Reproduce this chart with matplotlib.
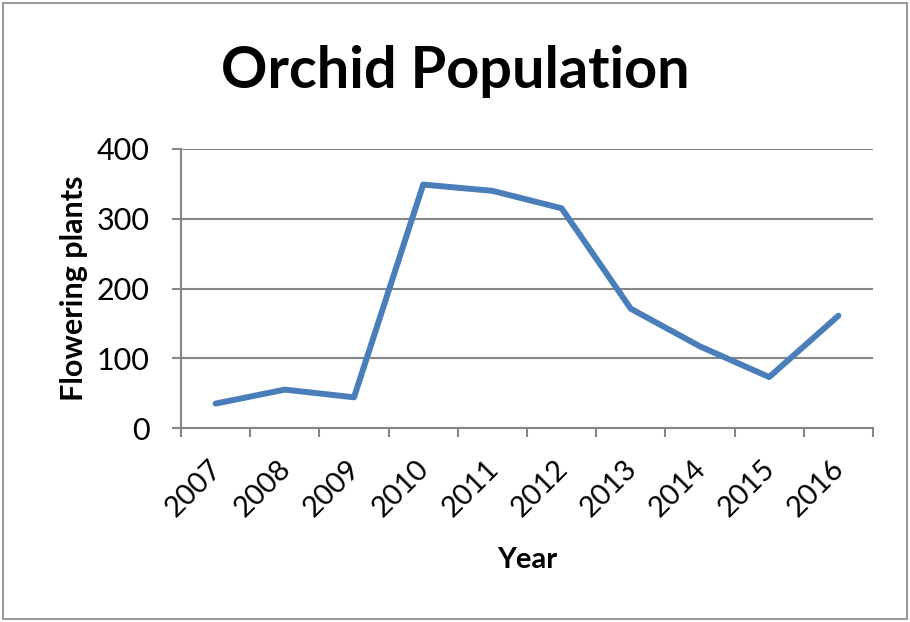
import matplotlib
matplotlib.use("Agg")
import matplotlib.pyplot as plt
from matplotlib.patches import Rectangle
from matplotlib.transforms import ScaledTranslation

years = ["2007", "2008", "2009", "2010", "2011", "2012", "2013", "2014", "2015", "2016"]
plants = [35, 55, 44, 349, 340, 315, 171, 117, 73, 161]
y_ticks = [0, 100, 200, 300, 400]

plt.rcParams['font.family'] = ['Lato', 'DejaVu Sans']

W, H = 910, 622
fig = plt.figure(figsize=(W / 100, H / 100), dpi=100)
ax = fig.add_axes([181 / W, 1 - 428 / H, (873 - 181) / W, (428 - 149) / H])

grey = '#868686'
x = list(range(len(years)))
ax.plot(x, plants, color='#4a7ebb', linewidth=4.3, solid_capstyle='round', solid_joinstyle='round', zorder=3)

ax.set_xlim(-0.5, len(years) - 0.5)
ax.set_ylim(0, 400)
ax.set_yticks(y_ticks)
ax.set_yticklabels([str(v) for v in y_ticks], fontsize=22)
ax.yaxis.grid(True, color=grey, linewidth=1.5)
ax.set_axisbelow(True)

ax.set_xticks(x)
ax.set_xticklabels(years, fontsize=21, rotation=45, ha='right', va='top')
ax.set_xticks([i - 0.5 for i in range(len(years) + 1)], minor=True)
ax.tick_params(axis='x', which='major', length=0, pad=20)
ax.tick_params(axis='x', which='minor', length=6.5, width=1.5, color=grey, direction='out')
ax.tick_params(axis='y', length=6.5, width=1.5, color=grey, pad=16)

# nudge the rotated year labels to the right, like Excel
shift = ScaledTranslation(11 / 100, 0, fig.dpi_scale_trans)
for lbl in ax.get_xticklabels():
    lbl.set_transform(lbl.get_transform() + shift)

for s in ['top', 'right']:
    ax.spines[s].set_visible(False)
for s in ['left', 'bottom']:
    ax.spines[s].set_color(grey)
    ax.spines[s].set_linewidth(1.5)

ax.set_ylabel('Flowering plants', fontsize=22, fontweight='bold', labelpad=6)
fig.text(527 / W, 1 - 560 / H, 'Year', fontsize=21, fontweight='bold', ha='center', va='center')
fig.text(455 / W, 1 - 72 / H, 'Orchid Population', fontsize=41.5, fontweight='bold', ha='center', va='center')

fig.patches.append(Rectangle((3 / W, 3 / H), 904 / W, 616 / H, transform=fig.transFigure,
                             fill=False, edgecolor=grey, linewidth=1.2))

fig.savefig('out.png', dpi=100)
